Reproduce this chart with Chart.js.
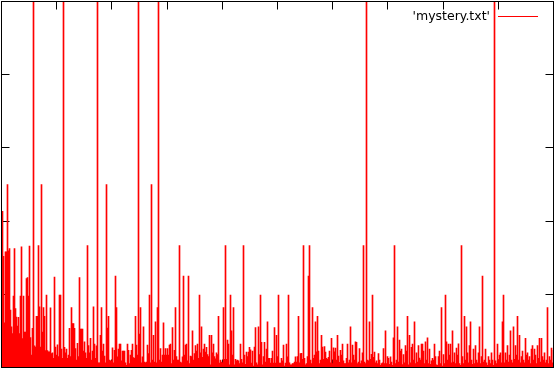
<!DOCTYPE html>
<html>
<head>
<meta charset="utf-8">
<script src="https://cdn.jsdelivr.net/npm/chart.js@4/dist/chart.umd.min.js"></script>
<style>
html,body{margin:0;padding:0;background:#fff;}
canvas{display:block;}
</style>
</head>
<body>
<canvas id="c" width="555" height="371"></canvas>
<script>
const seriesLabel = "'mystery.txt'";
const seriesValues = [
.427,.304,.122,.316,.316,.5,.319,.325,.157,.111,
.093,.195,.325,.161,.138,.113,.137,.093,.195,.33,
.079,.195,.097,.097,.243,.246,.195,.332,.082,.034,
.107,1,.059,.056,.14,.14,.333,.166,.056,.5,
.097,.164,.14,.046,.198,.046,.043,.043,.163,.038,
.04,.025,.247,.056,.034,.062,.03,.198,.198,.05,
.025,1,.055,.04,.05,.025,.034,.107,.03,.164,
.12,.12,.107,.052,.02,.066,.03,.246,.105,.105,
.105,.045,.07,.04,.025,.333,.06,.04,.08,.02,
.045,.166,.064,.025,.059,1,.013,.013,.088,.164,
.045,.064,.031,.013,.5,.108,.14,.02,.018,.018,
.054,.013,.047,.25,.164,.029,.05,.064,.064,.018,
.045,.045,.045,.013,.006,.064,.047,.011,.034,.047,
.064,.027,.025,.14,.061,.034,1,.091,.164,.013,
.029,.111,.015,.013,.015,.061,.038,.198,.013,.5,
.02,.088,.015,.125,.013,.164,1,.02,.052,.015,
.034,.122,.034,.052,.034,.052,.034,.061,.064,.011,
.109,.02,.047,.164,.03,.02,.02,.333,.015,.013,
.029,.25,.034,.061,.064,.018,.25,.011,.031,.03,
.1,.02,.038,.06,.045,.064,.025,.198,.04,.111,
.028,.05,.064,.042,.055,.035,.03,.088,.007,.088,
.04,.064,.03,.024,.04,.035,.14,.012,.02,.015,
.013,.164,.022,.333,.022,.075,.064,.007,.198,.1,
.034,.164,.007,.022,.018,.02,.018,.011,.064,.022,
.013,.333,.034,.009,.042,.03,.042,.055,.048,.012,
.045,.004,.056,.109,.013,.007,.111,.035,.198,.069,
.007,.03,.069,.015,.05,.125,.025,.025,.012,.025,
.045,.012,.109,.012,.088,.03,.198,.012,.012,.025,
.018,.061,.004,.012,.064,.029,.198,.013,.007,.007,
.011,.011,.015,.029,.015,.03,.14,.013,.038,.039,
.022,.333,.025,.007,.011,.03,.25,.333,.02,.011,
.164,.025,.034,.125,.043,.14,.045,.011,.02,.088,
.056,.022,.057,.042,.025,.022,.028,.045,.013,.08,
.011,.054,.043,.053,.02,.088,.031,.014,.047,.034,
.064,.018,.011,.011,.025,.064,.013,.02,.111,.013,
.061,.034,.02,.07,.069,.011,.015,.052,.011,.018,
.04,.333,.015,.011,1,.02,.018,.125,.022,.036,
.198,.028,.042,.013,.018,.011,.038,.02,.006,.011,
.013,.052,.011,.1,.011,.03,.025,.009,.029,.015,
.006,.081,.333,.011,.02,.111,.015,.075,.045,.05,
.008,.035,.013,.06,.045,.14,.007,.088,.013,.055,
.064,.02,.125,.011,.04,.015,.06,.026,.02,.064,
.064,.045,.011,.07,.02,.081,.011,.05,.009,.018,
.025,.02,.064,.03,.007,.006,.03,.045,.011,.164,
.004,.035,.011,.198,.07,.02,.064,.034,.064,.013,
.1,.015,.04,.011,.053,.034,.065,.011,.006,.333,
.03,.011,.14,.02,.111,.04,.013,.06,.125,.02,
.009,.05,.011,.06,.02,.013,.04,.111,.011,.03,
.25,.015,.02,.05,.013,.006,.03,.02,.011,.04,
.02,.006,1,.018,.011,.064,.02,.034,.04,.013,
.125,.198,.013,.04,.02,.06,.015,.034,.1,.02,
.013,.111,.022,.06,.034,.14,.02,.088,.013,.03,
.045,.02,.013,.08,.034,.04,.02,.03,.011,.05,
.06,.02,.05,.034,.011,.06,.025,.08,.015,.08,
.03,.02,.04,.013,.02,.164,.011,.03,.02,.053,
.013,.047
];
const xTickValues = [0,55.2,110.4,165.6,220.8,276,331.2,386.4,441.6,496.8,552];
const yTickValues = [0,0.2,0.4,0.6,0.8,1];
const xMin = 0, xMax = 552, yMin = 0, yMax = 1;

const points = seriesValues.map((v, i) => ({x: i + 1, y: v}));

const ticksPlugin = {
  id: 'gnuTicks',
  beforeDatasetsDraw(chart) {
    const ctx = chart.ctx, xs = chart.scales.x, ys = chart.scales.y, a = chart.chartArea;
    const L = 8;
    ctx.save();
    ctx.strokeStyle = '#000';
    ctx.lineWidth = 1;
    ctx.beginPath();
    xTickValues.forEach(v => {
      const px = Math.floor(xs.getPixelForValue(v)) + 0.5;
      ctx.moveTo(px, a.top); ctx.lineTo(px, a.top + L);
      ctx.moveTo(px, a.bottom); ctx.lineTo(px, a.bottom - L);
    });
    yTickValues.forEach(v => {
      const py = Math.floor(ys.getPixelForValue(v)) + 0.5;
      ctx.moveTo(a.left, py); ctx.lineTo(a.left + L, py);
      ctx.moveTo(a.right, py); ctx.lineTo(a.right - L, py);
    });
    ctx.stroke();
    ctx.restore();
  },
  afterDatasetsDraw(chart) {
    const ctx = chart.ctx, a = chart.chartArea;
    ctx.save();
    ctx.strokeStyle = '#000';
    ctx.lineWidth = 1;
    ctx.strokeRect(a.left, a.top, a.right - a.left, a.bottom - a.top);
    const ds = chart.data.datasets[0];
    ctx.font = '12.5px "DejaVu Sans"';
    ctx.fillStyle = '#000';
    ctx.textAlign = 'right';
    ctx.textBaseline = 'alphabetic';
    ctx.fillText(ds.label, 490, 20);
    ctx.strokeStyle = ds.backgroundColor;
    ctx.beginPath();
    ctx.moveTo(498, 16.5); ctx.lineTo(538, 16.5);
    ctx.stroke();
    ctx.restore();
  }
};

new Chart(document.getElementById('c'), {
  type: 'bar',
  data: {
    datasets: [{
      label: seriesLabel,
      data: points,
      backgroundColor: '#ff0000',
      borderWidth: 0,
      barThickness: 1
    }]
  },
  options: {
    responsive: false,
    animation: false,
    devicePixelRatio: 1,
    layout: {padding: {left: 1.5, right: 1.5, top: 1.5, bottom: 3.5}},
    plugins: {legend: {display: false}, tooltip: {enabled: false}},
    scales: {
      x: {type: 'linear', min: xMin, max: xMax, offset: false, display: false},
      y: {type: 'linear', min: yMin, max: yMax, display: false}
    }
  },
  plugins: [ticksPlugin]
});
</script>
</body>
</html>
